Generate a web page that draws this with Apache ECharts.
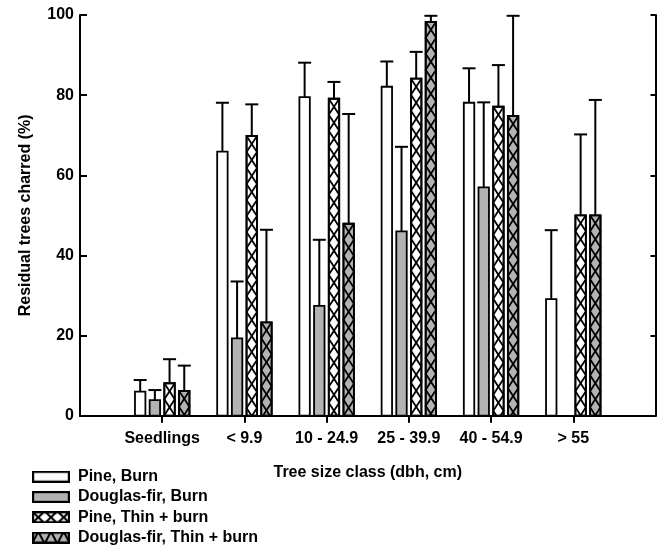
<!DOCTYPE html>
<html>
<head>
<meta charset="utf-8">
<script src="https://cdn.jsdelivr.net/npm/echarts@6/dist/echarts.min.js"></script>
<style>
html,body{margin:0;padding:0;background:#fff;}
#chart{width:662px;height:547px;}
</style>
</head>
<body>
<div id="chart"></div>
<script>
// ---- data ----
const categories = ['Seedlings', '< 9.9', '10 - 24.9', '25 - 39.9', '40 - 54.9', '> 55'];
const seriesNames = ['Pine, Burn', 'Douglas-fir, Burn', 'Pine, Thin + burn', 'Douglas-fir, Thin + burn'];
const pineBurn        = [6.0, 65.9, 79.5, 82.1, 78.1, 29.1];
const pineBurnUpper   = [8.9, 78.1, 88.1, 88.4, 86.7, 46.3];
const dfBurn          = [3.9, 19.3, 27.4, 46.0, 57.0, null];
const dfBurnUpper     = [6.4, 33.5, 43.9, 67.1, 78.2, null];
const pineThin        = [8.1, 69.8, 79.1, 84.1, 77.1, 50.0];
const pineThinUpper   = [14.1, 77.7, 83.3, 90.8, 87.5, 70.2];
const dfThin          = [6.2, 23.3, 47.9, 98.3, 74.8, 50.0];
const dfThinUpper     = [12.5, 46.4, 75.3, 99.8, 99.8, 78.8];
const yTicks = {min: 0, max: 100, interval: 20};

const FONT = 'Liberation Sans';
const GRAY = '#b3b3b3';

const styles = [
  {fill: '#ffffff', hatch: false},
  {fill: GRAY, hatch: false},
  {fill: '#ffffff', hatch: true},
  {fill: GRAY, hatch: true}
];
const valueSets = [
  [pineBurn, pineBurnUpper],
  [dfBurn, dfBurnUpper],
  [pineThin, pineThinUpper],
  [dfThin, dfThinUpper]
];

function zigzag(x0, x1, yTop, yBot, period, startLeft) {
  const pts = [];
  let y = yTop;
  let left = startLeft;
  pts.push([left ? x0 : x1, y]);
  while (y < yBot) {
    let ny = y + period;
    const nx = left ? x1 : x0;
    const px = left ? x0 : x1;
    if (ny > yBot) {
      const t = (yBot - y) / period;
      pts.push([px + (nx - px) * t, yBot]);
      break;
    }
    pts.push([nx, ny]);
    y = ny;
    left = !left;
  }
  return pts;
}

function makeRender(sIdx) {
  const st = styles[sIdx];
  return function (params, api) {
    const xi = api.value(0), v = api.value(1), up = api.value(2);
    const band = api.size([1, 0])[0];
    const stride = band * 0.1786;
    const bw = band * 0.127;
    const base = api.coord([xi, 0]);
    const top = api.coord([xi, v]);
    const et = api.coord([xi, up]);
    const cx = base[0] + (sIdx - 1.5) * stride;
    const x0 = cx - bw / 2, x1 = cx + bw / 2;
    const children = [];
    children.push({
      type: 'rect',
      shape: {x: x0, y: top[1], width: bw, height: base[1] - top[1]},
      style: {fill: st.fill, stroke: '#000', lineWidth: 1.8}
    });
    if (st.hatch) {
      const period = 16;
      [true, false].forEach(function (sl) {
        children.push({
          type: 'polyline',
          shape: {points: zigzag(x0, x1, top[1], base[1], period, sl)},
          style: {stroke: '#000', lineWidth: 1.8, fill: null}
        });
      });
      children.push({
        type: 'rect',
        shape: {x: x0, y: top[1], width: bw, height: base[1] - top[1]},
        style: {fill: null, stroke: '#000', lineWidth: 1.8}
      });
    }
    // error bar (upper only)
    children.push({
      type: 'line',
      shape: {x1: cx, y1: top[1], x2: cx, y2: et[1]},
      style: {stroke: '#000', lineWidth: 2}
    });
    children.push({
      type: 'line',
      shape: {x1: cx - 6.5, y1: et[1], x2: cx + 6.5, y2: et[1]},
      style: {stroke: '#000', lineWidth: 2}
    });
    return {type: 'group', children: children};
  };
}

function legendIcon(idx) {
  const c = document.createElement('canvas');
  const w = 38, h = 12;
  c.width = w; c.height = h;
  const g = c.getContext('2d');
  g.fillStyle = styles[idx].fill;
  g.fillRect(0, 0, w, h);
  g.strokeStyle = '#000';
  g.lineWidth = 2;
  if (idx === 2) {
    for (let i = 0; i < 3; i++) {
      const a = i * w / 3, b = (i + 1) * w / 3;
      g.beginPath(); g.moveTo(a, 0); g.lineTo(b, h); g.stroke();
      g.beginPath(); g.moveTo(b, 0); g.lineTo(a, h); g.stroke();
    }
  } else if (idx === 3) {
    g.beginPath();
    g.moveTo(0, h);
    for (let i = 0; i < 3; i++) {
      g.lineTo((i + 0.5) * w / 3, 0);
      g.lineTo((i + 1) * w / 3, h);
    }
    g.stroke();
  }
  g.lineWidth = 2.2;
  g.strokeRect(1.1, 1.1, w - 2.2, h - 2.2);
  return 'image://' + c.toDataURL();
}

const xData = [''].concat(categories).concat(['']);

const series = valueSets.map(function (vs, sIdx) {
  const data = [];
  categories.forEach(function (c, i) {
    if (vs[0][i] != null) data.push([i + 1, vs[0][i], vs[1][i]]);
  });
  return {
    type: 'custom',
    name: seriesNames[sIdx],
    renderItem: makeRender(sIdx),
    encode: {x: 0, y: [1, 2]},
    data: data,
    itemStyle: {color: styles[sIdx].fill},
    z: 3
  };
});

const labelStyle = {fontFamily: FONT, fontWeight: 'bold', fontSize: 16, color: '#000'};

const chart = echarts.init(document.getElementById('chart'), null, {renderer: 'canvas'});
chart.setOption({
  animation: false,
  backgroundColor: '#fff',
  grid: {left: 80, right: 6.5, top: 15, bottom: 131.3, containLabel: false},
  legend: {
    orient: 'vertical',
    left: 32,
    top: 468.7,
    height: 120,
    padding: 0,
    itemWidth: 38,
    itemHeight: 12,
    itemGap: 4.3,
    selectedMode: false,
    textStyle: Object.assign({lineHeight: 16, padding: [0, 0, 0, 3]}, labelStyle),
    data: seriesNames.map(function (n, i) { return {name: n, icon: legendIcon(i)}; })
  },
  xAxis: [{
    type: 'category',
    data: xData,
    boundaryGap: false,
    axisLine: {lineStyle: {color: '#000', width: 2}},
    axisTick: {show: true, inside: false, length: 7, lineStyle: {color: '#000', width: 2},
      interval: function (i) { return i > 0 && i < xData.length - 1; }},
    axisLabel: Object.assign({margin: 15, interval: 0}, labelStyle),
    name: 'Tree size class (dbh, cm)',
    nameLocation: 'middle',
    nameGap: 49,
    nameTextStyle: labelStyle,
    splitLine: {show: false}
  }, {
    type: 'category',
    data: xData,
    boundaryGap: false,
    position: 'top',
    axisLine: {lineStyle: {color: '#000', width: 2}},
    axisTick: {show: false},
    axisLabel: {show: false},
    splitLine: {show: false}
  }],
  yAxis: [{
    type: 'value',
    min: yTicks.min, max: yTicks.max, interval: yTicks.interval,
    axisLine: {show: true, lineStyle: {color: '#000', width: 2}},
    axisTick: {show: true, inside: true, length: 7, lineStyle: {color: '#000', width: 2}},
    axisLabel: Object.assign({margin: 6}, labelStyle),
    splitLine: {show: false},
    name: 'Residual trees charred (%)',
    nameLocation: 'middle',
    nameGap: 46,
    nameTextStyle: labelStyle
  }, {
    type: 'value',
    position: 'right',
    min: yTicks.min, max: yTicks.max, interval: yTicks.interval,
    axisLine: {show: true, lineStyle: {color: '#000', width: 2}},
    axisTick: {show: true, inside: true, length: 5, lineStyle: {color: '#000', width: 2}},
    axisLabel: {show: false},
    splitLine: {show: false}
  }],
  series: series
});
</script>
</body>
</html>
